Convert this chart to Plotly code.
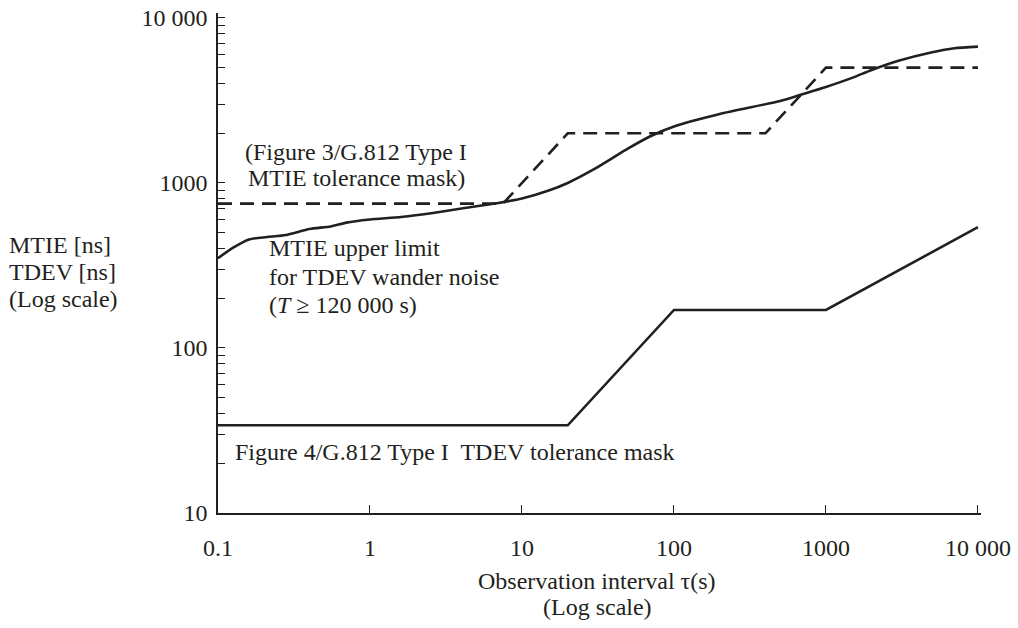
import plotly.graph_objects as go

# Observation interval tau (s)
tau_mtie_mask = [0.1, 7.5, 20, 400, 1000, 10000]
mtie_mask_ns = [750, 750, 2000, 2000, 5000, 5000]

tau_tdev_mask = [0.1, 20, 100, 1000, 10000]
tdev_mask_ns = [34, 34, 170, 170, 540]

tau_mtie_limit = [0.1, 0.125, 0.16, 0.21, 0.28, 0.4, 0.55, 0.7, 1, 1.6, 2.6, 4, 7, 10,
                  15, 20, 30, 50, 70, 100, 200, 500, 700, 1000, 1500, 2000, 3000,
                  5000, 7000, 10000]
mtie_limit_ns = [350, 404, 455, 470, 484, 526, 545, 575, 600, 622, 658, 700, 757, 805,
                 900, 1000, 1216, 1620, 1920, 2200, 2620, 3140, 3450, 3820, 4350, 4840, 5500,
                 6200, 6550, 6700]

y_tickvals = [10, 100, 1000, 10000]
y_ticktext = ["10", "100", "1000", "10 000"]
x_tickvals = [0.1, 1, 10, 100, 1000, 10000]
x_ticktext = ["0.1", "1", "10", "100", "1000", "10 000"]

INK = "#231f20"
FONT = "Liberation Serif"
FS = 24

W, H = 1018, 628
L, R, T, B = 218, 37, 13, 115
PW, PH = W - L - R, H - T - B


def px(x):
    return (x - L) / PW


def py(y):
    return (H - B - y) / PH


y_minor = [m * 10 ** d for d in range(1, 4) for m in range(2, 10)]

fig = go.Figure()
fig.add_trace(go.Scatter(x=tau_mtie_mask, y=mtie_mask_ns, mode="lines",
                         line=dict(color=INK, width=2.6, dash="14px,8px")))
fig.add_trace(go.Scatter(x=tau_mtie_limit, y=mtie_limit_ns, mode="lines",
                         line=dict(color=INK, width=2.6, shape="spline", smoothing=0.6)))
fig.add_trace(go.Scatter(x=tau_tdev_mask, y=tdev_mask_ns, mode="lines",
                         line=dict(color=INK, width=2.6)))

fig.update_layout(
    width=W, height=H,
    margin=dict(l=L, r=R, t=T, b=B, autoexpand=False),
    paper_bgcolor="white", plot_bgcolor="white",
    showlegend=False,
    font=dict(family=FONT, size=FS, color=INK),
)
fig.update_xaxes(
    type="log", range=[-1, 4.02], showgrid=False, zeroline=False, automargin=False,
    showline=True, linecolor=INK, linewidth=1.5,
    tickmode="array", tickvals=x_tickvals, ticktext=x_ticktext,
    ticks="inside", ticklen=8, tickwidth=1.3, tickcolor=INK,
    ticklabelstandoff=12,
    tickfont=dict(family=FONT, size=FS, color=INK),
)
fig.update_yaxes(
    type="log", range=[1, 4.03], showgrid=False, zeroline=False, automargin=False,
    showline=True, linecolor=INK, linewidth=1.5,
    tickmode="array", tickvals=y_tickvals, ticktext=y_ticktext,
    ticks="inside", ticklen=7, tickwidth=1.3, tickcolor=INK,
    ticklabelstandoff=4,
    tickfont=dict(family=FONT, size=FS, color=INK),
    minor=dict(tickmode="array", tickvals=y_minor, ticks="inside",
               ticklen=7, tickwidth=1.3, tickcolor=INK, showgrid=False),
)

# (text, x pixel, y pixel, anchor)
labels = [
    ("(Figure 3/G.812 Type I", 356, 152, "center"),
    ("MTIE tolerance mask)", 356, 178, "center"),
    ("MTIE upper limit", 267, 248, "left"),
    ("for TDEV wander noise", 267, 277, "left"),
    ("(<i>T</i> ≥ 120 000 s)", 267, 305, "left"),
    ("Figure 4/G.812 Type I  TDEV tolerance mask", 233, 452, "left"),
    ("MTIE [ns]", 7, 245, "left"),
    ("TDEV [ns]", 7, 272, "left"),
    ("(Log scale)", 7, 299, "left"),
    ("Observation interval τ(s)", 597, 581, "center"),
    ("(Log scale)", 597, 607, "center"),
]
for text, x, y, anchor in labels:
    fig.add_annotation(xref="paper", yref="paper", x=px(x), y=py(y), text=text,
                       xanchor=anchor, yanchor="middle", showarrow=False,
                       font=dict(family=FONT, size=FS, color=INK))

fig.write_html("out.html")
